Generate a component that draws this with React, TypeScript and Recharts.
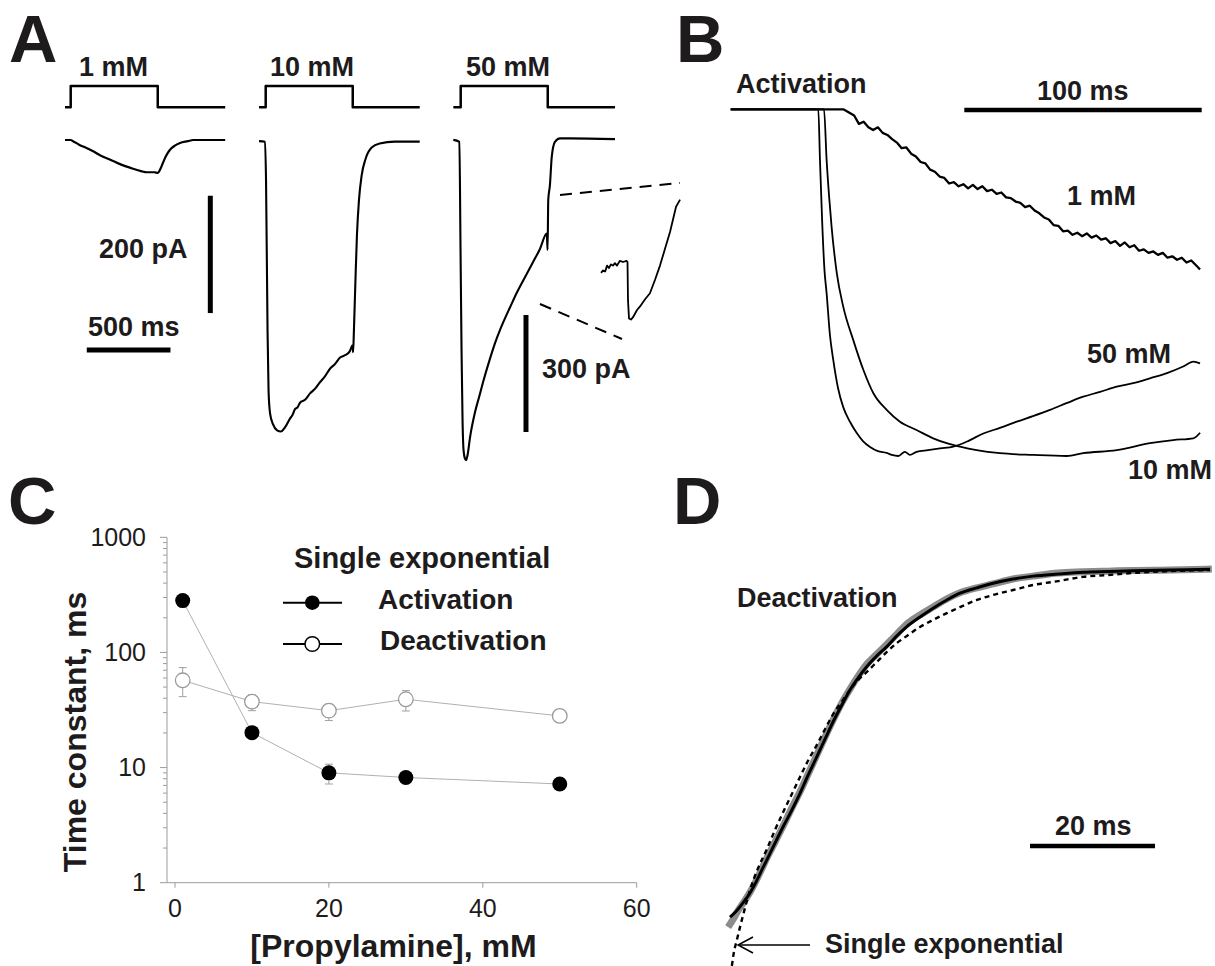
import React from 'react';
import { LineChart, ComposedChart, Line, XAxis, YAxis, ErrorBar } from 'recharts';

const FONT = '"Liberation Sans", Arial, Helvetica, sans-serif';
const INK = '#1e1b1c';

// ---------- Panel A (time in ms from stimulus onset, current in pA) ----------
const stim1mM: [number, number][] = [[-34, 0], [0, 0], [0, 1], [520, 1], [520, 0], [923, 0]];
const stim10mM: [number, number][] = [[-40, 0], [0, 0], [0, 1], [520, 1], [520, 0], [920, 0]];
const stim50mM: [number, number][] = [[-44, 0], [0, 0], [0, 1], [520, 1], [520, 0], [922, 0]];

const trace1mM_A: [number, number][] = [
  [-34, 0], [0, 0], [14, -2], [50, -8], [97, -14], [140, -20], [175, -26], [230, -33], [277, -39],
  [330, -45], [372, -49], [420, -53], [456, -55], [500, -55], [521, -56], [535, -50], [551, -39],
  [570, -27], [592, -17], [620, -10], [653, -5], [700, -2], [731, 0], [923, 0],
];
const trace10mM_A: [number, number][] = [
  [-40, -1], [-4, -2], [2, -68], [11, -324], [17, -426], [26, -465], [44, -484], [68, -494], [91, -496],
  [115, -489], [145, -474], [160, -468], [175, -458], [190, -455], [205, -447], [235, -442], [265, -431],
  [295, -423], [324, -412], [354, -402], [384, -389], [414, -381], [444, -370], [474, -366], [503, -359],
  [519, -349], [522, -361], [527, -324], [536, -239], [545, -162], [557, -102], [573, -60], [597, -31],
  [633, -12], [681, -5], [770, -2], [920, -2],
];
const trace50mM_A: [number, number][] = [
  [-44, -1], [-8, -6], [-1, -283], [5, -540], [11, -719], [17, -796], [26, -819], [32, -822], [41, -809],
  [56, -763], [85, -700], [110, -660], [135, -620], [175, -562], [205, -522], [235, -488], [265, -458],
  [295, -430], [335, -393], [384, -353], [434, -313], [474, -280], [514, -241], [519, -283], [523, -155],
  [533, -117], [544, -44], [563, -6], [593, 3], [653, 3], [922, 1],
];
// magnified inset around the end of the 50 mM application
const inset50mM: [number, number][] = [
  [-15.8, -250], [-14.6, -248], [-13.4, -249], [-12.2, -244], [-11.1, -246], [-9.9, -243], [-8.7, -244],
  [-7.5, -242], [-6.3, -244], [-4.5, -240], [-2.7, -241], [-0.6, -240], [0, -241], [0.3, -273], [0.9, -288],
  [2.1, -289], [3.3, -287], [5.7, -281], [7.5, -278], [10.5, -272], [13.4, -267], [16.4, -256],
  [19.4, -244], [22.4, -230], [25.4, -216], [29.0, -195], [31.4, -189],
];
const bar200pA: [number, number][] = [[834, -95], [834, -295]];
const bar500ms: [number, number][] = [[96, -358], [596, -358]];
const bar300pA: [number, number][] = [[390, -450], [390, -750]];

// ---------- Panel B (ms, normalised current) ----------
const act1mM: [number, number][] = [
  [0, 0], [47.4, 0], [48, -0.002], [50, -0.01], [52, -0.018], [54, -0.042], [56, -0.036], [58, -0.052],
  [60, -0.06], [62, -0.052], [64, -0.068], [66, -0.074], [68, -0.086], [70, -0.096], [72, -0.112],
  [74, -0.11], [76, -0.128], [78, -0.136], [80, -0.152], [82, -0.156], [84, -0.174], [86, -0.18],
  [88, -0.194], [90, -0.198], [92, -0.214], [94, -0.21], [96, -0.222], [98, -0.216], [100, -0.228],
  [102, -0.218], [104, -0.23], [106, -0.222], [108, -0.236], [110, -0.232], [112, -0.244], [114, -0.24],
  [116, -0.254], [118, -0.256], [120, -0.266], [122, -0.27], [124, -0.282], [126, -0.278], [128, -0.292],
  [130, -0.3], [132, -0.312], [134, -0.318], [136, -0.334], [138, -0.336], [140, -0.352], [142, -0.35],
  [144, -0.362], [146, -0.356], [148, -0.366], [150, -0.358], [152, -0.37], [154, -0.364], [156, -0.376],
  [158, -0.372], [160, -0.386], [162, -0.38], [164, -0.394], [166, -0.384], [168, -0.398], [170, -0.392],
  [172, -0.408], [174, -0.404], [176, -0.414], [178, -0.41], [180, -0.42], [182, -0.414], [184, -0.428],
  [186, -0.424], [188, -0.434], [190, -0.428], [192, -0.442], [194, -0.436], [196, -0.45], [197.7, -0.462],
];
const act50mM: [number, number][] = [
  [0, 0], [36.9, 0], [37.6, -0.146], [38.5, -0.319], [39.5, -0.464], [40.4, -0.53], [41.8, -0.651],
  [43.2, -0.723], [45.2, -0.804], [47.4, -0.859], [50.3, -0.902], [53.1, -0.934], [55.7, -0.957],
  [58.7, -0.974], [62.0, -0.986], [65.7, -0.991], [67.9, -0.997], [70.6, -1.0], [73.4, -0.988],
  [75.5, -0.997], [78.3, -0.988], [83.1, -0.983], [88.2, -0.978], [93.8, -0.973], [100, -0.957],
  [106.4, -0.935], [113.4, -0.919], [120.5, -0.901], [127.3, -0.885], [134.5, -0.867], [141.7, -0.847],
  [148.5, -0.829], [155.6, -0.815], [162.6, -0.8], [169.5, -0.79], [176.6, -0.776], [183.8, -0.761],
  [190.6, -0.742], [194.9, -0.728], [197.7, -0.733],
];
const act10mM: [number, number][] = [
  [0, 0], [39.3, 0], [40.4, -0.146], [41.4, -0.247], [42.5, -0.339], [44.7, -0.473], [47.4, -0.569],
  [51.6, -0.665], [55.9, -0.752], [60.1, -0.819], [65.7, -0.867], [71.3, -0.901], [78.3, -0.925],
  [85.3, -0.949], [91.0, -0.963], [96.6, -0.973], [103.6, -0.983], [113.4, -0.992], [127.5, -0.997],
  [141.5, -1.0], [148.5, -0.992], [162.6, -0.983], [176.6, -0.963], [186.4, -0.954], [194.9, -0.949],
  [197.7, -0.933],
];
const bar100ms: [number, number][] = [[98.4, -0.002], [198.4, -0.002]];

// ---------- Panel C ----------
const concentrations = [1, 10, 20, 30, 50];
const activationTau = [282, 20.1, 9.0, 8.2, 7.2];
const activationLow = [282, 20.1, 7.2, 8.2, 7.2];
const activationHigh = [282, 20.1, 10.7, 8.2, 7.2];
const deactivationTau = [57.3, 37.4, 31.2, 39.2, 28.1];
const deactivationLow = [41.3, 31.2, 25.6, 31.0, 24.6];
const deactivationHigh = [73.8, 42.7, 35.5, 46.6, 31.6];
const xTicksC = [0, 20, 40, 60];
const yTicksC = [1, 2, 3, 4, 5, 6, 7, 8, 9, 10, 20, 30, 40, 50, 60, 70, 80, 90, 100, 200, 300, 400, 500, 600, 700, 800, 900, 1000];
const yMajorC = [1, 10, 100, 1000];

// ---------- Panel D (ms, fraction recovered) ----------
const deactRecord: [number, number][] = [
  [-0.3, -0.006], [0.5, 0.016], [1.2, 0.038], [2.2, 0.064], [3.2, 0.092], [4.2, 0.125], [5.1, 0.158],
  [5.9, 0.188], [7.2, 0.233],
  [8.5, 0.278], [9.9, 0.329], [11.2, 0.374], [12.5, 0.424], [13.9, 0.478], [15.2, 0.528], [16.5, 0.576],
  [17.9, 0.624], [19.2, 0.663], [20.5, 0.699], [21.9, 0.733], [23.5, 0.761], [25.1, 0.789], [26.7, 0.817],
  [28.3, 0.846], [30.4, 0.871], [32.5, 0.893], [34.7, 0.916], [36.8, 0.933], [39.5, 0.947], [42.1, 0.958],
  [45.3, 0.972], [48.5, 0.98], [52.5, 0.989], [56.5, 0.992], [60.5, 0.994], [64.5, 0.996], [70.4, 0.997],
  [77.1, 1.0],
];
const deactFit: [number, number][] = [
  [0, 0.022], [1.1, 0.041], [2.2, 0.065], [3.2, 0.09], [4.2, 0.122], [5.1, 0.155], [5.9, 0.183],
  [7.2, 0.23], [8.5, 0.276],
  [9.9, 0.323], [11.2, 0.37], [12.5, 0.421], [13.9, 0.473], [15.2, 0.522], [16.5, 0.571], [17.9, 0.618],
  [19.2, 0.66], [20.5, 0.694], [21.9, 0.726], [23.5, 0.756], [25.1, 0.782], [26.7, 0.812], [28.3, 0.838],
  [30.4, 0.865], [32.5, 0.89], [34.7, 0.913], [36.8, 0.932], [39.5, 0.947], [42.1, 0.96], [45.3, 0.972],
  [48.5, 0.98], [52.5, 0.986], [56.5, 0.991], [60.5, 0.993], [64.5, 0.995], [70.4, 0.997], [76.8, 0.999],
];
const singleExpFit: [number, number][] = [
  [0.3, -0.115], [0.6, -0.079], [1.1, -0.042], [1.6, -0.006], [2.1, 0.028], [3.2, 0.098], [4.5, 0.16],
  [5.9, 0.213], [7.2, 0.267], [8.5, 0.317], [9.9, 0.368], [11.2, 0.416], [12.5, 0.462], [13.9, 0.506],
  [15.2, 0.55], [16.5, 0.592], [17.9, 0.628], [19.2, 0.66], [20.5, 0.688], [21.9, 0.711], [23.5, 0.739],
  [25.1, 0.767], [26.7, 0.792], [28.3, 0.812], [30.4, 0.837], [32.5, 0.857], [34.7, 0.876], [36.8, 0.893],
  [39.5, 0.913], [42.1, 0.927], [45.3, 0.941], [48.5, 0.955], [52.5, 0.966], [56.5, 0.978], [60.5, 0.983],
  [64.5, 0.989], [70.4, 0.994], [76.8, 0.997],
];
const bar20ms: [number, number][] = [[48, 0.222], [68, 0.222]];

// ---------- helpers ----------
type Box = { left: number; top: number; width: number; height: number };
type Map1 = { px: number; val: number; scale: number };

const pts = (a: [number, number][]) => a.map(([t, v]) => ({ t, v }));

function TraceChart({ box, x, ys, lines }: { box: Box; x: Map1; ys: Record<string, Map1>; lines: any[] }) {
  const xd: [number, number] = [x.val - (x.px - box.left) / x.scale, x.val + (box.left + box.width - x.px) / x.scale];
  return (
    <div style={{ position: 'absolute', left: box.left, top: box.top, width: box.width, height: box.height }}>
      <LineChart width={box.width} height={box.height} margin={{ top: 0, right: 0, bottom: 0, left: 0 }}>
        <XAxis type="number" dataKey="t" domain={xd} hide allowDataOverflow />
        {Object.keys(ys).map((id) => {
          const y = ys[id];
          const yd: [number, number] = [y.val - (box.top + box.height - y.px) / y.scale, y.val + (y.px - box.top) / y.scale];
          return <YAxis key={id} yAxisId={id} type="number" domain={yd} hide allowDataOverflow />;
        })}
        {lines.map((l, i) => (
          <Line
            key={i}
            yAxisId={l.axis}
            data={pts(l.data)}
            dataKey="v"
            type={l.curve || 'linear'}
            dot={false}
            activeDot={false}
            isAnimationActive={false}
            stroke={l.color || '#000'}
            strokeWidth={l.width}
            strokeDasharray={l.dash}
            strokeLinecap="butt"
            strokeLinejoin="round"
          />
        ))}
      </LineChart>
    </div>
  );
}

const A_X = 0.1674; // px per ms
const stimY: Map1 = { px: 107.3, val: 0, scale: 21.3 };

function LogTick(props: any) {
  const { x, y, payload } = props;
  const major = yMajorC.includes(payload.value);
  return (
    <g>
      <line x1={x - (major ? 7 : 4)} x2={x} y1={y} y2={y} stroke="#9c9c9c" strokeWidth={1} />
      {major && (
        <text x={x - 21} y={y + 8.5} textAnchor="end" fontSize={25} fontFamily={FONT} fill={INK}>
          {payload.value}
        </text>
      )}
    </g>
  );
}

const actData = concentrations.map((c, i) => ({
  x: c, y: activationTau[i], err: [activationTau[i] - activationLow[i], activationHigh[i] - activationTau[i]],
}));
const deactData = concentrations.map((c, i) => ({
  x: c, y: deactivationTau[i], err: [deactivationTau[i] - deactivationLow[i], deactivationHigh[i] - deactivationTau[i]],
}));

function PanelC() {
  return (
    <div style={{ position: 'absolute', left: 0, top: 480, width: 680, height: 486 }}>
      <ComposedChart width={680} height={486} margin={{ top: 57.3, right: 43.3, bottom: 43.3, left: 87 }}>
        <XAxis
          type="number" dataKey="x" domain={[-1.04, 60]} ticks={xTicksC} allowDataOverflow height={40}
          stroke="#9c9c9c" tickSize={5} tickMargin={12}
          tick={{ fontSize: 25, fill: INK, fontFamily: FONT }}
        />
        <YAxis
          type="number" scale="log" domain={[1, 1000]} ticks={yTicksC} allowDataOverflow width={80}
          stroke="#9c9c9c" tickLine={false} tickSize={0} tickMargin={0} interval={0}
          tick={(p: any) => <LogTick {...p} />}
        />
        <Line
          data={deactData} dataKey="y" type="linear" stroke="#b0b0b0" strokeWidth={1} isAnimationActive={false}
          activeDot={false}
          dot={(p: any) => <circle key={`dd${p.index}`} cx={p.cx} cy={p.cy} r={7.3} fill="#fff" stroke="#9a9a9a" strokeWidth={1.3} />}
        >
          <ErrorBar dataKey="err" width={4} stroke="#a0a0a0" strokeWidth={1} direction="y" />
        </Line>
        <Line
          data={actData} dataKey="y" type="linear" stroke="#b0b0b0" strokeWidth={1} isAnimationActive={false}
          activeDot={false}
          dot={(p: any) => <circle key={`ad${p.index}`} cx={p.cx} cy={p.cy} r={7.5} fill="#000" />}
        >
          <ErrorBar dataKey="err" width={4} stroke="#a0a0a0" strokeWidth={1} direction="y" />
        </Line>
      </ComposedChart>
    </div>
  );
}

const txt = (s: string, x: number, y: number, size = 27, extra: any = {}) => (
  <text key={s + x + y} x={x} y={y} fontSize={size} fontWeight={700} fontFamily={FONT} fill={INK} {...extra}>
    {s}
  </text>
);

export default function App() {
  return (
    <div style={{ position: 'absolute', left: 0, top: 0, width: 1215, height: 966, background: '#fff', overflow: 'hidden' }}>
      {/* Panel A columns */}
      <TraceChart
        box={{ left: 40, top: 0, width: 200, height: 480 }}
        x={{ px: 70.7, val: 0, scale: A_X }}
        ys={{ i: { px: 140, val: 0, scale: 0.5867 }, s: stimY }}
        lines={[
          { axis: 's', data: stim1mM, width: 2.5 },
          { axis: 'i', data: trace1mM_A, width: 2.2, curve: 'monotoneX' },
          { axis: 'i', data: bar200pA, width: 5 },
          { axis: 'i', data: bar500ms, width: 5 },
        ]}
      />
      <TraceChart
        box={{ left: 240, top: 0, width: 200, height: 480 }}
        x={{ px: 265.7, val: 0, scale: A_X }}
        ys={{ i: { px: 140.5, val: 0, scale: 0.5867 }, s: stimY }}
        lines={[
          { axis: 's', data: stim10mM, width: 2.5 },
          { axis: 'i', data: trace10mM_A, width: 2.1, curve: 'monotoneX' },
        ]}
      />
      <TraceChart
        box={{ left: 440, top: 0, width: 185, height: 480 }}
        x={{ px: 460.7, val: 0, scale: A_X }}
        ys={{ i: { px: 139.5, val: 0, scale: 0.39 }, s: stimY }}
        lines={[
          { axis: 's', data: stim50mM, width: 2.5 },
          { axis: 'i', data: trace50mM_A, width: 2.1, curve: 'monotoneX' },
          { axis: 'i', data: bar300pA, width: 5 },
        ]}
      />
      <TraceChart
        box={{ left: 595, top: 150, width: 90, height: 200 }}
        x={{ px: 627.5, val: 0, scale: 1.674 }}
        ys={{ i: { px: 262, val: -241, scale: 1.2 } }}
        lines={[{ axis: 'i', data: inset50mM, width: 1.8 }]}
      />
      {/* Panel B */}
      <TraceChart
        box={{ left: 700, top: 60, width: 515, height: 420 }}
        x={{ px: 730.7, val: 0, scale: 2.374 }}
        ys={{ i: { px: 109.3, val: 0, scale: 346.7 } }}
        lines={[
          { axis: 'i', data: act10mM, width: 1.8, curve: 'monotoneX' },
          { axis: 'i', data: act50mM, width: 1.8, curve: 'monotoneX' },
          { axis: 'i', data: act1mM, width: 2.3 },
          { axis: 'i', data: bar100ms, width: 4.5 },
        ]}
      />
      {/* Panel C */}
      <PanelC />
      {/* Panel D */}
      <TraceChart
        box={{ left: 700, top: 540, width: 515, height: 426 }}
        x={{ px: 730, val: 0, scale: 6.25 }}
        ys={{ i: { px: 925, val: 0, scale: 356 } }}
        lines={[
          { axis: 'i', data: deactRecord, width: 7, color: '#8c8c8c', curve: 'monotoneX' },
          { axis: 'i', data: deactFit, width: 3, curve: 'monotoneX' },
          { axis: 'i', data: singleExpFit, width: 2.4, dash: '5 4', curve: 'monotoneX' },
          { axis: 'i', data: bar20ms, width: 4.5 },
        ]}
      />
      {/* annotations */}
      <svg width={1215} height={966} style={{ position: 'absolute', left: 0, top: 0, pointerEvents: 'none' }}>
        {txt('A', 9, 62, 67)}
        {txt('1 mM', 79, 76)}
        {txt('10 mM', 270, 76)}
        {txt('50 mM', 466, 76)}
        {txt('200 pA', 99, 258)}
        {txt('500 ms', 88, 336)}
        {txt('300 pA', 542, 378)}
        <line x1={560} y1={195} x2={680} y2={183} stroke="#000" strokeWidth={2} strokeDasharray="12 8" />
        <line x1={540} y1={304} x2={622} y2={339} stroke="#000" strokeWidth={2} strokeDasharray="12 8" />

        {txt('B', 676, 62, 67)}
        {txt('Activation', 736, 93)}
        {txt('100 ms', 1037, 100)}
        {txt('1 mM', 1067, 205)}
        {txt('50 mM', 1087, 363)}
        {txt('10 mM', 1128, 479)}

        {txt('C', 8, 524, 67)}
        {txt('Single exponential', 294, 568, 29)}
        <line x1={283} y1={602.7} x2={342} y2={602.7} stroke="#000" strokeWidth={2} />
        <circle cx={312.3} cy={602.7} r={7.3} fill="#000" />
        {txt('Activation', 378, 609, 28)}
        <line x1={283} y1={644} x2={342} y2={644} stroke="#000" strokeWidth={2} />
        <circle cx={312.3} cy={644} r={7.3} fill="#fff" stroke="#000" strokeWidth={1.5} />
        {txt('Deactivation', 380, 650, 28)}
        {txt('Time constant, ms', 86, 732, 32, { textAnchor: 'middle', transform: 'rotate(-90 86 732)' })}
        {txt('[Propylamine], mM', 393.5, 957, 32, { textAnchor: 'middle' })}

        {txt('D', 673, 524, 67)}
        {txt('Deactivation', 737, 607)}
        {txt('20 ms', 1055, 835)}
        {txt('Single exponential', 825, 953)}
        <line x1={738} y1={945} x2={810} y2={945} stroke="#000" strokeWidth={1.5} />
        <polyline points="753,937 738,945 753,953" fill="none" stroke="#000" strokeWidth={1.5} />
      </svg>
    </div>
  );
}
